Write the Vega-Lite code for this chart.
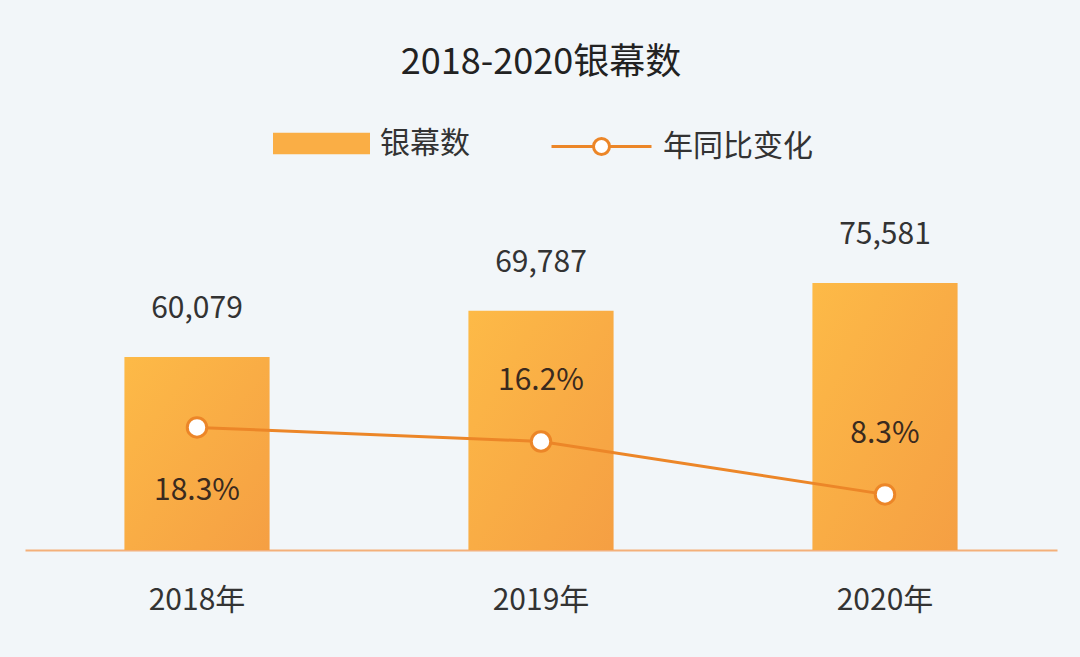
{
  "$schema": "https://vega.github.io/schema/vega-lite/v6.json",
  "width": 1032,
  "height": 350,
  "autosize": "none",
  "padding": {"left": 25, "top": 200, "right": 23, "bottom": 107},
  "background": "#F2F6F9",
  "config": {
    "font": "Noto Sans CJK SC",
    "view": {"stroke": null}
  },
  "title": {
    "text": "2018-2020银幕数",
    "fontSize": 36,
    "fontWeight": "normal",
    "color": "#222222",
    "anchor": "middle",
    "offset": 13
  },
  "data": {
    "values": [
      {"year": "2018年", "screens": 60079, "yoy": 0.183},
      {"year": "2019年", "screens": 69787, "yoy": 0.162},
      {"year": "2020年", "screens": 75581, "yoy": 0.083}
    ]
  },
  "encoding": {
    "x": {
      "field": "year",
      "type": "nominal",
      "sort": null,
      "scale": {"paddingInner": 0.578, "paddingOuter": 0.289},
      "axis": {
        "title": null,
        "labelAngle": 0,
        "labelFontSize": 30,
        "labelColor": "#333333",
        "labelPadding": 35,
        "ticks": false,
        "domainColor": "#F4B07A",
        "domainWidth": 2
      }
    }
  },
  "layer": [
    {
      "layer": [
        {
          "mark": {"type": "bar", "opacity": 0},
          "encoding": {
            "y": {"field": "screens", "type": "quantitative", "scale": {"domain": [19650, 92960], "zero": false, "nice": false}, "axis": null},
            "y2": {"datum": 19650},
            "fill": {
              "datum": "银幕数",
              "type": "nominal",
              "scale": {"range": ["#FAAE45"]},
              "legend": {
                "title": null,
                "orient": "none",
                "legendX": 248,
                "legendY": -105,
                "padding": 0,
                "symbolType": "M-1,-0.22H1V0.22H-1Z",
                "symbolSize": 9409,
                "symbolOpacity": 1,
                "symbolStrokeWidth": 0,
                "labelFontSize": 30,
                "labelColor": "#333333",
                "labelOffset": 10,
                "encode": {"symbols": {"update": {"fill": {"value": {"gradient": "linear", "x1": 0, "y1": 0, "x2": 1, "y2": 1, "stops": [{"offset": 0, "color": "#FDBA47"}, {"offset": 1, "color": "#F59F43"}]}}, "opacity": {"value": 1}}}}
              }
            }
          }
        },
        {
          "mark": {"type": "bar", "color": {"gradient": "linear", "x1": 0, "y1": 0, "x2": 1, "y2": 1, "stops": [{"offset": 0, "color": "#FDBA47"}, {"offset": 1, "color": "#F59F43"}]}},
          "encoding": {
            "y": {"field": "screens", "type": "quantitative", "scale": {"domain": [19650, 92960], "zero": false, "nice": false}, "axis": null},
            "y2": {"datum": 19650}
          }
        },
        {
          "mark": {"type": "text", "fontSize": 30, "color": "#333333", "dy": -48, "baseline": "middle"},
          "encoding": {
            "y": {"field": "screens", "type": "quantitative", "scale": {"domain": [19650, 92960], "zero": false, "nice": false}, "axis": null},
            "text": {"field": "screens", "type": "quantitative", "format": ","}
          }
        }
      ]
    },
    {
      "layer": [
        {
          "mark": {"type": "line", "strokeWidth": 3},
          "encoding": {
            "y": {"field": "yoy", "type": "quantitative", "scale": {"domain": [0, 0.5224], "nice": false}, "axis": null},
            "stroke": {
              "datum": "年同比变化",
              "type": "nominal",
              "scale": {"range": ["#EC8628"]},
              "legend": {
                "title": null,
                "orient": "none",
                "legendX": 525,
                "legendY": -105,
                "padding": 0,
                "symbolType": "M-1,0H-0.16M0.16,0H1M-0.16,0A0.16,0.16 0 1,0 0.16,0A0.16,0.16 0 1,0 -0.16,0",
                "symbolSize": 10000,
                "symbolFillColor": "#FFFFFF",
                "symbolStrokeWidth": 3,
                "labelFontSize": 30,
                "labelColor": "#333333",
                "labelOffset": 10
              }
            }
          }
        },
        {
          "mark": {"type": "point", "filled": true, "fill": "#FFFFFF", "stroke": "#EC8628", "strokeWidth": 3, "size": 380, "opacity": 1},
          "encoding": {
            "y": {"field": "yoy", "type": "quantitative", "scale": {"domain": [0, 0.5224], "nice": false}, "axis": null}
          }
        },
        {
          "transform": [{"filter": "datum.year === '2018年'"}],
          "mark": {"type": "text", "fontSize": 30, "color": "#3A2A1E", "dy": 64, "baseline": "middle"},
          "encoding": {
            "y": {"field": "yoy", "type": "quantitative", "scale": {"domain": [0, 0.5224], "nice": false}, "axis": null},
            "text": {"field": "yoy", "type": "quantitative", "format": ".1%"}
          }
        },
        {
          "transform": [{"filter": "datum.year !== '2018年'"}],
          "mark": {"type": "text", "fontSize": 30, "color": "#3A2A1E", "dy": -60, "baseline": "middle"},
          "encoding": {
            "y": {"field": "yoy", "type": "quantitative", "scale": {"domain": [0, 0.5224], "nice": false}, "axis": null},
            "text": {"field": "yoy", "type": "quantitative", "format": ".1%"}
          }
        }
      ]
    }
  ],
  "resolve": {"scale": {"y": "independent", "fill": "independent", "stroke": "independent"}}
}
